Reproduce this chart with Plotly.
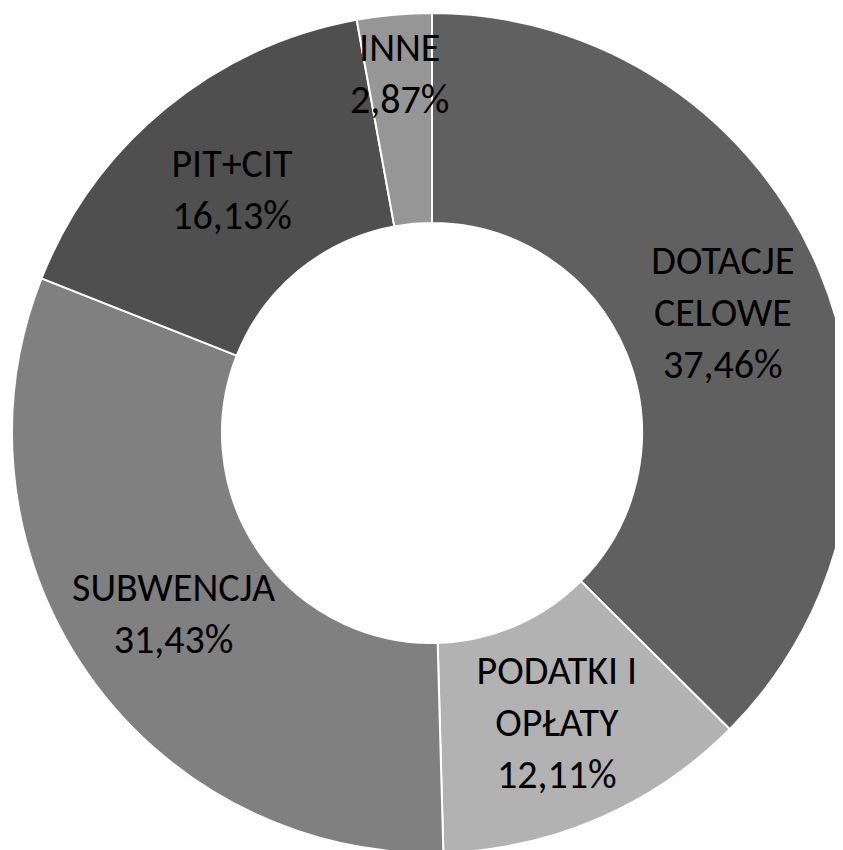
import math
import plotly.graph_objects as go

labels = ["DOTACJE<br>CELOWE", "PODATKI I<br>OPŁATY", "SUBWENCJA", "PIT+CIT", "INNE"]
shares = [37.46, 12.11, 31.43, 16.13, 2.87]
colors = ["#606060", "#b2b2b2", "#808080", "#4f4f4f", "#969696"]

W, H = 852, 850
CX, CY, R = 424, 425, 420  # pie centre/radius in figure px (page body adds 8px)
HOLE = 0.5
FONT = dict(family="Carlito, Lato, sans-serif", size=40, color="#000000")

# labels plotly would push off the slice middle -> placed by hand (radius as fraction of R)
annotated = {"SUBWENCJA": (1 + HOLE) / 2, "INNE": 0.86}

texts = []
annotations = []
total = sum(shares)
cum = 0.0
for lab, v in zip(labels, shares):
    mid = (cum + v / 2) / total * 2 * math.pi
    cum += v
    txt = f"{lab}<br>{v:.2f}%".replace(".", ",")
    if lab in annotated:
        texts.append("")
        rr = R * annotated[lab]
        annotations.append(dict(
            x=(CX + rr * math.sin(mid)) / W, y=1 - (CY - rr * math.cos(mid)) / H,
            xref="paper", yref="paper", xanchor="center", yanchor="middle",
            text=txt, showarrow=False, font=FONT,
        ))
    else:
        texts.append(txt)

fig = go.Figure(go.Pie(
    labels=labels, values=shares, hole=HOLE,
    sort=False, direction="clockwise", rotation=0,
    marker=dict(colors=colors, line=dict(color="#ffffff", width=2)),
    text=texts, texttemplate="%{text}",
    textposition="inside",
    insidetextorientation="horizontal",
    textfont=FONT,
    domain=dict(x=[(CX - R) / W, (CX + R) / W], y=[1 - (CY + R) / H, 1 - (CY - R) / H]),
    hoverinfo="skip",
))
fig.update_layout(
    width=W, height=H,
    margin=dict(l=0, r=0, t=0, b=0),
    paper_bgcolor="#ffffff",
    showlegend=False,
    uniformtext=dict(minsize=40, mode="show"),
    annotations=annotations,
)
fig.write_html("out.html")
